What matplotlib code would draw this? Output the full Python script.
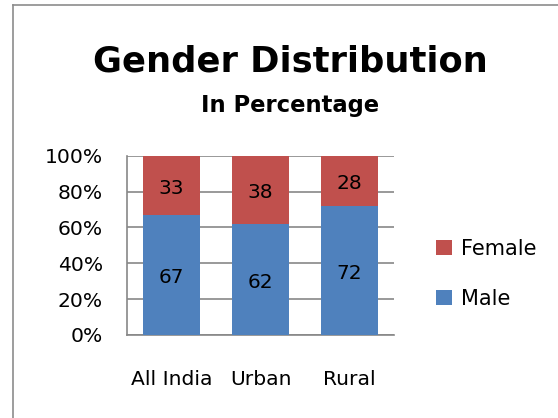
import matplotlib
matplotlib.use("Agg")
import matplotlib.pyplot as plt
from matplotlib.lines import Line2D

categories = ["All India", "Urban", "Rural"]
male = [67, 62, 72]
female = [33, 38, 28]
yticks = [0, 20, 40, 60, 80, 100]
ytick_labels = ["0%", "20%", "40%", "60%", "80%", "100%"]

W, H = 558, 418
fig = plt.figure(figsize=(W / 100, H / 100), dpi=100)
plt.rcParams['font.family'] = ['DejaVu Sans']

blue = "#4F81BD"
red = "#C0504D"
grid = "#878787"

# outer chart frame
fig.add_artist(Line2D([13 / W, 13 / W], [1 - 5 / H, -0.1], transform=fig.transFigure, color="#8c8c8c", lw=1.2))
fig.add_artist(Line2D([13 / W, 1.1], [1 - 5 / H, 1 - 5 / H], transform=fig.transFigure, color="#8c8c8c", lw=1.2))

ax = fig.add_axes([127 / W, (H - 335) / H, 267 / W, (335 - 155.7) / H])
x = list(range(len(categories)))
bw = 0.64
ax.bar(x, male, bw, color=blue, label="Male", zorder=3)
ax.bar(x, female, bw, bottom=male, color=red, label="Female", zorder=3)

for xi, m, f in zip(x, male, female):
    ax.annotate(str(m), (xi, m / 2), xytext=(0, -2.2), textcoords="offset points",
                ha="center", va="center", fontsize=14.5, color="black", zorder=4)
    ax.annotate(str(f), (xi, m + f / 2), xytext=(0, -2.2), textcoords="offset points",
                ha="center", va="center", fontsize=14.5, color="black", zorder=4)

ax.set_xlim(-0.5, 2.5)
ax.set_ylim(0, 100)
ax.set_yticks(yticks)
ax.set_yticklabels(ytick_labels, fontsize=14.6)
ax.set_xticks(x)
ax.set_xticklabels(categories, fontsize=14.6)
ax.tick_params(axis="y", length=0, pad=17.5)
ax.tick_params(axis="x", length=0, pad=25)
ax.yaxis.grid(True, color=grid, lw=1.2, zorder=0)
for s in ["top", "right"]:
    ax.spines[s].set_visible(False)
for s in ["left", "bottom"]:
    ax.spines[s].set_color(grid)
    ax.spines[s].set_linewidth(1.2)

fig.text(290 / W, 1 - 72 / H, "Gender Distribution", ha="center", va="baseline", fontsize=25.4, fontweight="bold")
fig.text(290 / W, 1 - 112 / H, "In Percentage", ha="center", va="baseline", fontsize=16.3, fontweight="bold")

handles, labels = ax.get_legend_handles_labels()
fig.legend(handles[::-1], labels[::-1], loc="center left", bbox_to_anchor=(436 / W, 1 - 274 / H),
           frameon=False, fontsize=15, handlelength=0.75, handleheight=0.75, handletextpad=0.45,
           labelspacing=1.45, borderaxespad=0, borderpad=0)

fig.savefig("out.png", dpi=100)
